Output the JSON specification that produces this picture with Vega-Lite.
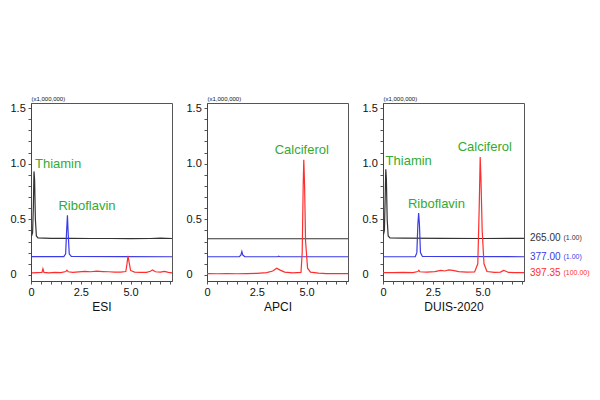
{
  "$schema": "https://vega.github.io/schema/vega-lite/v6.json",
  "padding": {"left": 9, "top": 94, "right": 0, "bottom": 0},
  "spacing": 12,
  "background": "white",
  "config": {
    "view": {"stroke": "#555555", "strokeWidth": 1},
    "axis": {"grid": false, "labelFont": "Liberation Sans", "titleFont": "Liberation Sans", "labelFontSize": 11, "labelColor": "#111111", "titleColor": "#111111", "domainColor": "#444444", "tickColor": "#555555", "tickSize": 3, "labelOverlap": false, "labelBound": false, "tickCount": 60}
  },
  "datasets": {
    "traces": [
      {"p":"ESI","mz":"265.00","t":0.03,"v":0.35},{"p":"ESI","mz":"265.00","t":0.08,"v":0.38},{"p":"ESI","mz":"265.00","t":0.12,"v":0.62},{"p":"ESI","mz":"265.00","t":0.15,"v":0.93},{"p":"ESI","mz":"265.00","t":0.18,"v":0.86},{"p":"ESI","mz":"265.00","t":0.22,"v":0.5},{"p":"ESI","mz":"265.00","t":0.27,"v":0.35},{"p":"ESI","mz":"265.00","t":0.35,"v":0.332},{"p":"ESI","mz":"265.00","t":1.0,"v":0.329},{"p":"ESI","mz":"265.00","t":2.0,"v":0.328},{"p":"ESI","mz":"265.00","t":3.0,"v":0.327},{"p":"ESI","mz":"265.00","t":4.0,"v":0.327},{"p":"ESI","mz":"265.00","t":5.0,"v":0.326},{"p":"ESI","mz":"265.00","t":6.0,"v":0.327},{"p":"ESI","mz":"265.00","t":6.5,"v":0.331},{"p":"ESI","mz":"265.00","t":7.08,"v":0.327},
      {"p":"ESI","mz":"377.00","t":0.05,"v":0.165},{"p":"ESI","mz":"377.00","t":1.65,"v":0.165},{"p":"ESI","mz":"377.00","t":1.74,"v":0.19},{"p":"ESI","mz":"377.00","t":1.79,"v":0.4},{"p":"ESI","mz":"377.00","t":1.83,"v":0.535},{"p":"ESI","mz":"377.00","t":1.86,"v":0.4},{"p":"ESI","mz":"377.00","t":1.92,"v":0.19},{"p":"ESI","mz":"377.00","t":2.02,"v":0.166},{"p":"ESI","mz":"377.00","t":4.5,"v":0.164},{"p":"ESI","mz":"377.00","t":7.08,"v":0.163},
      {"p":"ESI","mz":"397.35","t":0.05,"v":0.018},{"p":"ESI","mz":"397.35","t":0.3,"v":0.02},{"p":"ESI","mz":"397.35","t":0.55,"v":0.022},{"p":"ESI","mz":"397.35","t":0.6,"v":0.055},{"p":"ESI","mz":"397.35","t":0.65,"v":0.022},{"p":"ESI","mz":"397.35","t":0.9,"v":0.018},{"p":"ESI","mz":"397.35","t":1.2,"v":0.022},{"p":"ESI","mz":"397.35","t":1.5,"v":0.02},{"p":"ESI","mz":"397.35","t":1.75,"v":0.03},{"p":"ESI","mz":"397.35","t":1.8,"v":0.042},{"p":"ESI","mz":"397.35","t":1.87,"v":0.028},{"p":"ESI","mz":"397.35","t":2.1,"v":0.022},{"p":"ESI","mz":"397.35","t":2.4,"v":0.027},{"p":"ESI","mz":"397.35","t":2.7,"v":0.031},{"p":"ESI","mz":"397.35","t":3.0,"v":0.028},{"p":"ESI","mz":"397.35","t":3.3,"v":0.033},{"p":"ESI","mz":"397.35","t":3.6,"v":0.03},{"p":"ESI","mz":"397.35","t":3.9,"v":0.028},{"p":"ESI","mz":"397.35","t":4.2,"v":0.025},{"p":"ESI","mz":"397.35","t":4.5,"v":0.024},{"p":"ESI","mz":"397.35","t":4.76,"v":0.03},{"p":"ESI","mz":"397.35","t":4.82,"v":0.1},{"p":"ESI","mz":"397.35","t":4.87,"v":0.172},{"p":"ESI","mz":"397.35","t":4.92,"v":0.12},{"p":"ESI","mz":"397.35","t":5.0,"v":0.04},{"p":"ESI","mz":"397.35","t":5.2,"v":0.025},{"p":"ESI","mz":"397.35","t":5.5,"v":0.022},{"p":"ESI","mz":"397.35","t":5.8,"v":0.023},{"p":"ESI","mz":"397.35","t":6.0,"v":0.032},{"p":"ESI","mz":"397.35","t":6.1,"v":0.045},{"p":"ESI","mz":"397.35","t":6.25,"v":0.028},{"p":"ESI","mz":"397.35","t":6.5,"v":0.025},{"p":"ESI","mz":"397.35","t":6.7,"v":0.031},{"p":"ESI","mz":"397.35","t":6.9,"v":0.022},{"p":"ESI","mz":"397.35","t":7.08,"v":0.018},
      {"p":"APCI","mz":"265.00","t":0.0,"v":0.325},{"p":"APCI","mz":"265.00","t":3.5,"v":0.325},{"p":"APCI","mz":"265.00","t":7.08,"v":0.325},
      {"p":"APCI","mz":"377.00","t":0.0,"v":0.163},{"p":"APCI","mz":"377.00","t":1.62,"v":0.163},{"p":"APCI","mz":"377.00","t":1.7,"v":0.178},{"p":"APCI","mz":"377.00","t":1.75,"v":0.21},{"p":"APCI","mz":"377.00","t":1.8,"v":0.178},{"p":"APCI","mz":"377.00","t":1.9,"v":0.163},{"p":"APCI","mz":"377.00","t":3.55,"v":0.163},{"p":"APCI","mz":"377.00","t":3.6,"v":0.168},{"p":"APCI","mz":"377.00","t":3.65,"v":0.163},{"p":"APCI","mz":"377.00","t":7.08,"v":0.163},
      {"p":"APCI","mz":"397.35","t":0.0,"v":0.012},{"p":"APCI","mz":"397.35","t":0.5,"v":0.01},{"p":"APCI","mz":"397.35","t":1.0,"v":0.012},{"p":"APCI","mz":"397.35","t":1.5,"v":0.01},{"p":"APCI","mz":"397.35","t":2.0,"v":0.012},{"p":"APCI","mz":"397.35","t":2.5,"v":0.014},{"p":"APCI","mz":"397.35","t":3.0,"v":0.02},{"p":"APCI","mz":"397.35","t":3.3,"v":0.035},{"p":"APCI","mz":"397.35","t":3.5,"v":0.06},{"p":"APCI","mz":"397.35","t":3.65,"v":0.045},{"p":"APCI","mz":"397.35","t":3.9,"v":0.025},{"p":"APCI","mz":"397.35","t":4.3,"v":0.018},{"p":"APCI","mz":"397.35","t":4.72,"v":0.022},{"p":"APCI","mz":"397.35","t":4.78,"v":0.2},{"p":"APCI","mz":"397.35","t":4.83,"v":0.8},{"p":"APCI","mz":"397.35","t":4.86,"v":1.035},{"p":"APCI","mz":"397.35","t":4.9,"v":0.8},{"p":"APCI","mz":"397.35","t":4.95,"v":0.3},{"p":"APCI","mz":"397.35","t":5.05,"v":0.06},{"p":"APCI","mz":"397.35","t":5.2,"v":0.025},{"p":"APCI","mz":"397.35","t":5.6,"v":0.015},{"p":"APCI","mz":"397.35","t":6.0,"v":0.012},{"p":"APCI","mz":"397.35","t":6.5,"v":0.012},{"p":"APCI","mz":"397.35","t":7.08,"v":0.012},
      {"p":"DUIS-2020","mz":"265.00","t":0.02,"v":0.36},{"p":"DUIS-2020","mz":"265.00","t":0.07,"v":0.4},{"p":"DUIS-2020","mz":"265.00","t":0.11,"v":0.7},{"p":"DUIS-2020","mz":"265.00","t":0.14,"v":0.95},{"p":"DUIS-2020","mz":"265.00","t":0.17,"v":0.86},{"p":"DUIS-2020","mz":"265.00","t":0.21,"v":0.5},{"p":"DUIS-2020","mz":"265.00","t":0.26,"v":0.35},{"p":"DUIS-2020","mz":"265.00","t":0.35,"v":0.333},{"p":"DUIS-2020","mz":"265.00","t":1.0,"v":0.331},{"p":"DUIS-2020","mz":"265.00","t":3.0,"v":0.329},{"p":"DUIS-2020","mz":"265.00","t":5.0,"v":0.327},{"p":"DUIS-2020","mz":"265.00","t":6.5,"v":0.328},{"p":"DUIS-2020","mz":"265.00","t":7.08,"v":0.329},
      {"p":"DUIS-2020","mz":"377.00","t":0.0,"v":0.163},{"p":"DUIS-2020","mz":"377.00","t":1.62,"v":0.163},{"p":"DUIS-2020","mz":"377.00","t":1.7,"v":0.2},{"p":"DUIS-2020","mz":"377.00","t":1.75,"v":0.45},{"p":"DUIS-2020","mz":"377.00","t":1.79,"v":0.555},{"p":"DUIS-2020","mz":"377.00","t":1.83,"v":0.45},{"p":"DUIS-2020","mz":"377.00","t":1.88,"v":0.2},{"p":"DUIS-2020","mz":"377.00","t":1.98,"v":0.165},{"p":"DUIS-2020","mz":"377.00","t":7.08,"v":0.163},
      {"p":"DUIS-2020","mz":"397.35","t":0.0,"v":0.02},{"p":"DUIS-2020","mz":"397.35","t":0.5,"v":0.02},{"p":"DUIS-2020","mz":"397.35","t":1.0,"v":0.022},{"p":"DUIS-2020","mz":"397.35","t":1.5,"v":0.02},{"p":"DUIS-2020","mz":"397.35","t":1.75,"v":0.03},{"p":"DUIS-2020","mz":"397.35","t":1.8,"v":0.042},{"p":"DUIS-2020","mz":"397.35","t":1.85,"v":0.028},{"p":"DUIS-2020","mz":"397.35","t":2.2,"v":0.025},{"p":"DUIS-2020","mz":"397.35","t":2.6,"v":0.03},{"p":"DUIS-2020","mz":"397.35","t":2.9,"v":0.04},{"p":"DUIS-2020","mz":"397.35","t":3.1,"v":0.035},{"p":"DUIS-2020","mz":"397.35","t":3.3,"v":0.045},{"p":"DUIS-2020","mz":"397.35","t":3.5,"v":0.04},{"p":"DUIS-2020","mz":"397.35","t":3.8,"v":0.03},{"p":"DUIS-2020","mz":"397.35","t":4.2,"v":0.025},{"p":"DUIS-2020","mz":"397.35","t":4.6,"v":0.026},{"p":"DUIS-2020","mz":"397.35","t":4.76,"v":0.1},{"p":"DUIS-2020","mz":"397.35","t":4.83,"v":0.6},{"p":"DUIS-2020","mz":"397.35","t":4.88,"v":1.06},{"p":"DUIS-2020","mz":"397.35","t":4.92,"v":0.85},{"p":"DUIS-2020","mz":"397.35","t":4.98,"v":0.4},{"p":"DUIS-2020","mz":"397.35","t":5.07,"v":0.1},{"p":"DUIS-2020","mz":"397.35","t":5.22,"v":0.03},{"p":"DUIS-2020","mz":"397.35","t":5.6,"v":0.022},{"p":"DUIS-2020","mz":"397.35","t":5.9,"v":0.025},{"p":"DUIS-2020","mz":"397.35","t":6.05,"v":0.04},{"p":"DUIS-2020","mz":"397.35","t":6.15,"v":0.035},{"p":"DUIS-2020","mz":"397.35","t":6.3,"v":0.022},{"p":"DUIS-2020","mz":"397.35","t":6.6,"v":0.02},{"p":"DUIS-2020","mz":"397.35","t":7.08,"v":0.02}
    ],
    "labels": [
      {"p":"ESI","label":"Thiamin","x":0.2,"y":1.0},
      {"p":"ESI","label":"Riboflavin","x":1.38,"y":0.62},
      {"p":"APCI","label":"Calciferol","x":3.4,"y":1.125},
      {"p":"DUIS-2020","label":"Thiamin","x":0.13,"y":1.02},
      {"p":"DUIS-2020","label":"Riboflavin","x":1.25,"y":0.64},
      {"p":"DUIS-2020","label":"Calciferol","x":3.75,"y":1.15}
    ],
    "legend": [
      {"mz":"265.00","sc":"(1.00)","x":7.08,"y":0.332},
      {"mz":"377.00","sc":"(1.00)","x":7.08,"y":0.163},
      {"mz":"397.35","sc":"(100.00)","x":7.08,"y":0.018}
    ]
  },
  "hconcat": [
    {
      "width": 141, "height": 178,
      "layer": [
        {
          "data": {"name": "traces"},
          "transform": [{"filter": "datum.p == 'ESI'"}],
          "mark": {"type": "line", "strokeWidth": 1.2, "clip": true},
          "encoding": {
            "x": {"field": "t", "type": "quantitative", "scale": {"domain": [0, 7.08], "nice": false, "zero": false},
              "axis": {"title": "ESI", "titleFontSize": 12, "titleFontWeight": "normal", "titlePadding": 4, "labelPadding": 2.5, "tickCount": 60, "values": [0,0.5,1,1.5,2,2.5,3,3.5,4,4.5,5,5.5,6,6.5,7], "labelExpr": "datum.value == 0 ? '0' : (datum.value == 2.5 || datum.value == 5 ? format(datum.value, '.1f') : '')", "labelFlush": false}},
            "y": {"field": "v", "type": "quantitative", "scale": {"domain": [-0.055, 1.545], "nice": false, "zero": false},
              "axis": {"title": "(x1,000,000)", "titleAngle": 0, "titleAlign": "left", "titleBaseline": "bottom", "titleX": 0, "titleY": -2, "titleFontSize": 6, "titleFontWeight": "normal", "tickCount": 60, "values": [0,0.1,0.2,0.3,0.4,0.5,0.6,0.7,0.8,0.9,1.0,1.1,1.2,1.3,1.4,1.5], "labelExpr": "datum.value == 0 ? '0' : (datum.value == 0.5 || datum.value == 1 || datum.value == 1.5 ? format(datum.value, '.1f') : '')", "labelAlign": "left", "labelPadding": 18}},
            "color": {"field": "mz", "type": "nominal", "scale": {"domain": ["265.00","377.00","397.35"], "range": ["#333333","#3a3ae6","#ff2d2d"]}, "legend": null}
          }
        },
        {
          "data": {"name": "labels"},
          "transform": [{"filter": "datum.p == 'ESI'"}],
          "mark": {"type": "text", "align": "left", "baseline": "middle", "font": "Liberation Sans", "fontSize": 13, "color": "#33aa33"},
          "encoding": {
            "x": {"field": "x", "type": "quantitative"},
            "y": {"field": "y", "type": "quantitative"},
            "text": {"field": "label"}
          }
        }
      ]
    },
    {
      "width": 141, "height": 178,
      "layer": [
        {
          "data": {"name": "traces"},
          "transform": [{"filter": "datum.p == 'APCI'"}],
          "mark": {"type": "line", "strokeWidth": 1.2, "clip": true},
          "encoding": {
            "x": {"field": "t", "type": "quantitative", "scale": {"domain": [0, 7.08], "nice": false, "zero": false},
              "axis": {"title": "APCI", "titleFontSize": 12, "titleFontWeight": "normal", "titlePadding": 4, "labelPadding": 2.5, "tickCount": 60, "values": [0,0.5,1,1.5,2,2.5,3,3.5,4,4.5,5,5.5,6,6.5,7], "labelExpr": "datum.value == 0 ? '0' : (datum.value == 2.5 || datum.value == 5 ? format(datum.value, '.1f') : '')", "labelFlush": false}},
            "y": {"field": "v", "type": "quantitative", "scale": {"domain": [-0.055, 1.545], "nice": false, "zero": false},
              "axis": {"title": "(x1,000,000)", "titleAngle": 0, "titleAlign": "left", "titleBaseline": "bottom", "titleX": 0, "titleY": -2, "titleFontSize": 6, "titleFontWeight": "normal", "tickCount": 60, "values": [0,0.1,0.2,0.3,0.4,0.5,0.6,0.7,0.8,0.9,1.0,1.1,1.2,1.3,1.4,1.5], "labelExpr": "datum.value == 0 ? '0' : (datum.value == 0.5 || datum.value == 1 || datum.value == 1.5 ? format(datum.value, '.1f') : '')", "labelAlign": "left", "labelPadding": 18}},
            "color": {"field": "mz", "type": "nominal", "scale": {"domain": ["265.00","377.00","397.35"], "range": ["#333333","#3a3ae6","#ff2d2d"]}, "legend": null}
          }
        },
        {
          "data": {"name": "labels"},
          "transform": [{"filter": "datum.p == 'APCI'"}],
          "mark": {"type": "text", "align": "left", "baseline": "middle", "font": "Liberation Sans", "fontSize": 13, "color": "#33aa33"},
          "encoding": {
            "x": {"field": "x", "type": "quantitative"},
            "y": {"field": "y", "type": "quantitative"},
            "text": {"field": "label"}
          }
        }
      ]
    },
    {
      "width": 141, "height": 178,
      "layer": [
        {
          "data": {"name": "traces"},
          "transform": [{"filter": "datum.p == 'DUIS-2020'"}],
          "mark": {"type": "line", "strokeWidth": 1.2, "clip": true},
          "encoding": {
            "x": {"field": "t", "type": "quantitative", "scale": {"domain": [0, 7.08], "nice": false, "zero": false},
              "axis": {"title": "DUIS-2020", "titleFontSize": 12, "titleFontWeight": "normal", "titlePadding": 4, "labelPadding": 2.5, "tickCount": 60, "values": [0,0.5,1,1.5,2,2.5,3,3.5,4,4.5,5,5.5,6,6.5,7], "labelExpr": "datum.value == 0 ? '0' : (datum.value == 2.5 || datum.value == 5 ? format(datum.value, '.1f') : '')", "labelFlush": false}},
            "y": {"field": "v", "type": "quantitative", "scale": {"domain": [-0.055, 1.545], "nice": false, "zero": false},
              "axis": {"title": "(x1,000,000)", "titleAngle": 0, "titleAlign": "left", "titleBaseline": "bottom", "titleX": 0, "titleY": -2, "titleFontSize": 6, "titleFontWeight": "normal", "tickCount": 60, "values": [0,0.1,0.2,0.3,0.4,0.5,0.6,0.7,0.8,0.9,1.0,1.1,1.2,1.3,1.4,1.5], "labelExpr": "datum.value == 0 ? '0' : (datum.value == 0.5 || datum.value == 1 || datum.value == 1.5 ? format(datum.value, '.1f') : '')", "labelAlign": "left", "labelPadding": 18}},
            "color": {"field": "mz", "type": "nominal", "scale": {"domain": ["265.00","377.00","397.35"], "range": ["#333333","#3a3ae6","#ff2d2d"]}, "legend": null}
          }
        },
        {
          "data": {"name": "labels"},
          "transform": [{"filter": "datum.p == 'DUIS-2020'"}],
          "mark": {"type": "text", "align": "left", "baseline": "middle", "font": "Liberation Sans", "fontSize": 13, "color": "#33aa33"},
          "encoding": {
            "x": {"field": "x", "type": "quantitative"},
            "y": {"field": "y", "type": "quantitative"},
            "text": {"field": "label"}
          }
        },
        {
          "data": {"name": "legend"},
          "mark": {"type": "text", "align": "left", "baseline": "middle", "font": "Liberation Sans", "fontSize": 10, "dx": 6},
          "encoding": {
            "x": {"field": "x", "type": "quantitative"},
            "y": {"field": "y", "type": "quantitative"},
            "text": {"field": "mz"},
            "color": {"field": "mz", "type": "nominal", "legend": null}
          }
        },
        {
          "data": {"name": "legend"},
          "mark": {"type": "text", "align": "left", "baseline": "middle", "font": "Liberation Sans", "fontSize": 7, "dx": 39.5, "dy": 0.5},
          "encoding": {
            "x": {"field": "x", "type": "quantitative"},
            "y": {"field": "y", "type": "quantitative"},
            "text": {"field": "sc"},
            "color": {"field": "mz", "type": "nominal", "legend": null}
          }
        }
      ]
    }
  ]
}
